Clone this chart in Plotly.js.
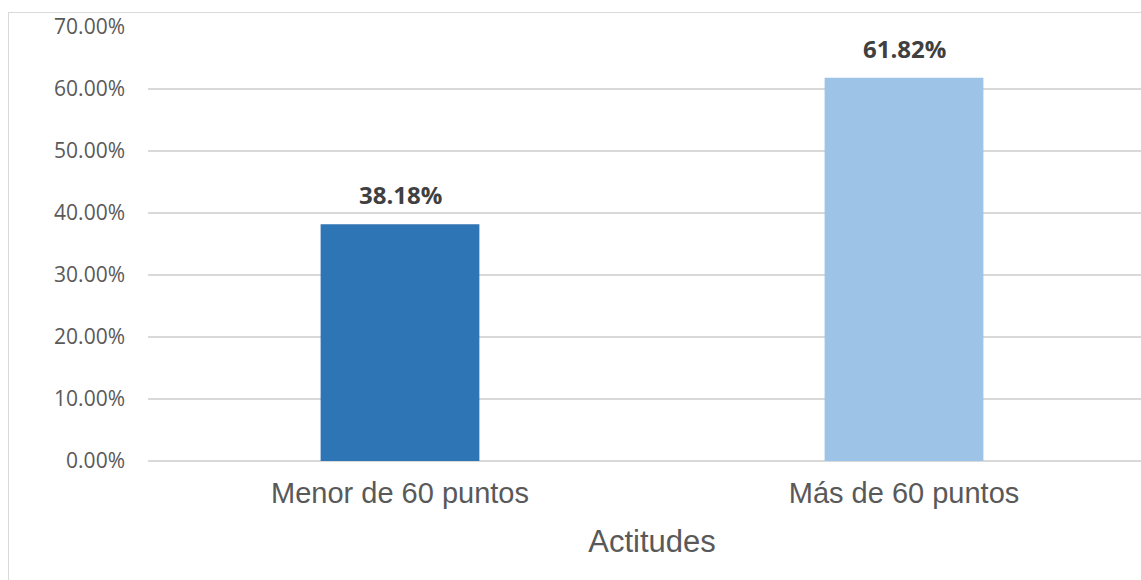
<!DOCTYPE html>
<html>
<head>
<meta charset="utf-8">
<script src="https://cdn.plot.ly/plotly-3.0.1.min.js"></script>
<style>
html, body { margin: 0; padding: 0; overflow: hidden; background: #ffffff; width: 1141px; height: 580px; }
#chart { position: absolute; left: 0; top: 0; }
#frame { position: absolute; left: 8px; top: 12px; width: 1133px; height: 568px; border-left: 1.5px solid #d9d9d9; border-top: 1.5px solid #d9d9d9; pointer-events: none; box-sizing: border-box; }
</style>
</head>
<body>
<div id="chart"></div>
<div id="frame"></div>
<script>
const categories = ["Menor de 60 puntos", "Más de 60 puntos"];
const values = [38.18, 61.82];
const barColors = ["#2E75B6", "#9DC3E6"];
const yTicks = [0, 10, 20, 30, 40, 50, 60, 70];
const yTickLabels = ["0.00%", "10.00%", "20.00%", "30.00%", "40.00%", "50.00%", "60.00%", "70.00%"];
const xTitle = "Actitudes";

const trace = {
  type: "bar",
  x: categories,
  y: values,
  marker: { color: barColors },
  hoverinfo: "none"
};

const annotations = categories.map((c, i) => ({
  x: c,
  y: values[i],
  xref: "x",
  yref: "y",
  text: "<b>" + values[i].toFixed(2) + "%</b>",
  showarrow: false,
  yanchor: "bottom",
  yshift: 11,
  font: { family: "Open Sans, sans-serif", size: 24, color: "#404040" }
}));

const layout = {
  width: 1170,
  height: 580,
  margin: { l: 148, r: 14, t: 27, b: 119 },
  paper_bgcolor: "rgba(0,0,0,0)",
  plot_bgcolor: "rgba(0,0,0,0)",
  showlegend: false,
  bargap: 0.685,
  xaxis: {
    type: "category",
    showgrid: false,
    zeroline: false,
    showline: false,
    ticks: "",
    tickfont: { family: "Liberation Sans, Arial, sans-serif", size: 29, color: "#595959" },
    ticklabelstandoff: 12,
    title: {
      text: xTitle,
      font: { family: "Liberation Sans, Arial, sans-serif", size: 31, color: "#595959" },
      standoff: 22
    }
  },
  yaxis: {
    range: [0, 70],
    tickmode: "array",
    tickvals: yTicks,
    ticktext: yTickLabels,
    showgrid: true,
    gridcolor: "#d9d9d9",
    gridwidth: 1.5,
    zeroline: true,
    zerolinecolor: "#d9d9d9",
    zerolinewidth: 2,
    showline: false,
    ticks: "",
    ticklabelstandoff: 22,
    tickfont: { family: "Open Sans, sans-serif", size: 21, color: "#595959" }
  },
  annotations: annotations
};

Plotly.newPlot("chart", [trace], layout, { displayModeBar: false, staticPlot: true });
</script>
</body>
</html>
